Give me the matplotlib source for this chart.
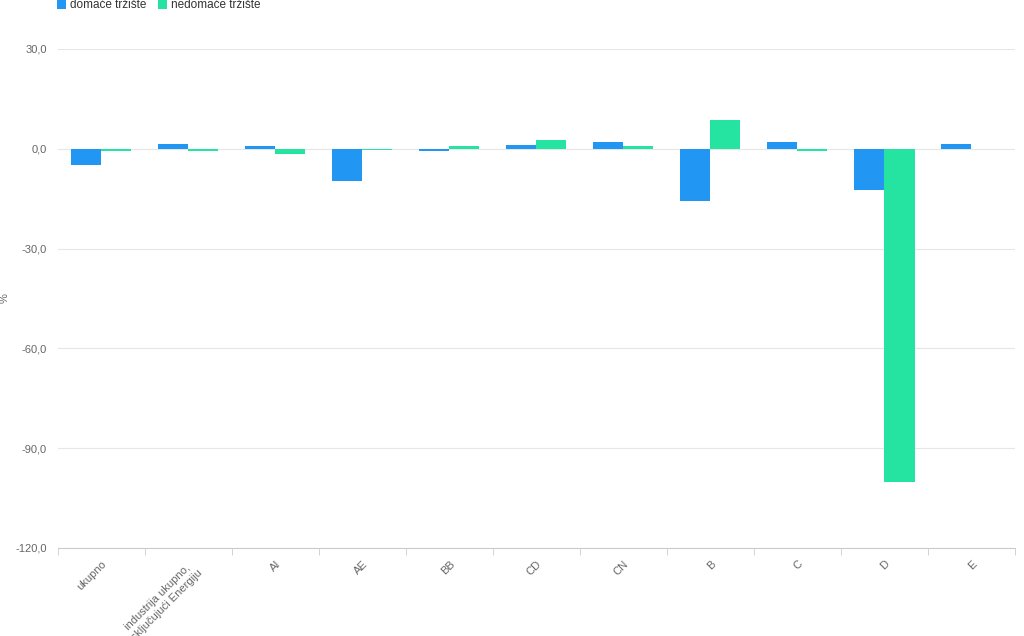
import numpy as np
import matplotlib
matplotlib.use('Agg')
import matplotlib.pyplot as plt

plt.rcParams['font.family'] = ['Liberation Sans', 'DejaVu Sans']

# Data
categories = ['ukupno', 'industrija ukupno,\nisključujući Energiju', 'AI', 'AE', 'BB',
              'CD', 'CN', 'B', 'C', 'D', 'E']
domace = [-4.9, 1.5, 0.7, -9.8, -0.6, 1.0, 2.0, -15.8, 2.0, -12.5, 1.3]
nedomace = [-0.7, -0.8, -1.6, -0.5, 0.7, 2.6, 0.8, 8.6, -0.6, -100.1, 0.0]
series_names = ['domaće tržište', 'nedomaće tržište']
yticks = [30, 0, -30, -60, -90, -120]

blue = '#2196f3'
green = '#25e4a2'

fig = plt.figure(figsize=(10.24, 6.36), dpi=100)
ax = fig.add_axes([0.0566, 0.1384, 0.9346, 0.7846])

x = np.arange(len(categories))
w = 0.345
ax.bar(x - w / 2, domace, width=w, color=blue, label=series_names[0], zorder=3)
ax.bar(x + w / 2, nedomace, width=w, color=green, label=series_names[1], zorder=3)

ax.set_xlim(-0.5, len(categories) - 0.5)
ax.set_ylim(-120, 30)

# grid and axis styling
ax.set_yticks(yticks)
ax.set_yticklabels([f'{v:.1f}'.replace('.', ',') for v in yticks])
ax.yaxis.grid(True, color='#e6e6e6', linewidth=0.8, zorder=0)
for s in ['top', 'right', 'left']:
    ax.spines[s].set_visible(False)
ax.spines['bottom'].set_color('#cccccc')
ax.spines['bottom'].set_zorder(4)
ax.tick_params(axis='y', length=0, pad=8, labelsize=8, labelcolor='#666666')

ax.set_xticks(x)
ax.set_xticklabels(categories, rotation=45, ha='right', va='top',
                   rotation_mode='anchor', fontsize=8, color='#666666',
                   multialignment='center')
ax.tick_params(axis='x', length=0, pad=8)
ax.set_xticks(np.arange(-0.5, len(categories), 1.0), minor=True)
ax.tick_params(axis='x', which='minor', length=5, color='#cccccc')

ax.set_ylabel('%', fontsize=8, color='#666666', labelpad=14)
ax.yaxis.set_label_coords(-0.05, 0.5)

fig.legend(loc='upper left', bbox_to_anchor=(0.045, 1.018), ncol=2, frameon=False,
           fontsize=8.5, handlelength=0.8, handleheight=0.8, handletextpad=0.3,
           columnspacing=1.0, labelcolor='#333333')

fig.savefig('out.png', dpi=100)
